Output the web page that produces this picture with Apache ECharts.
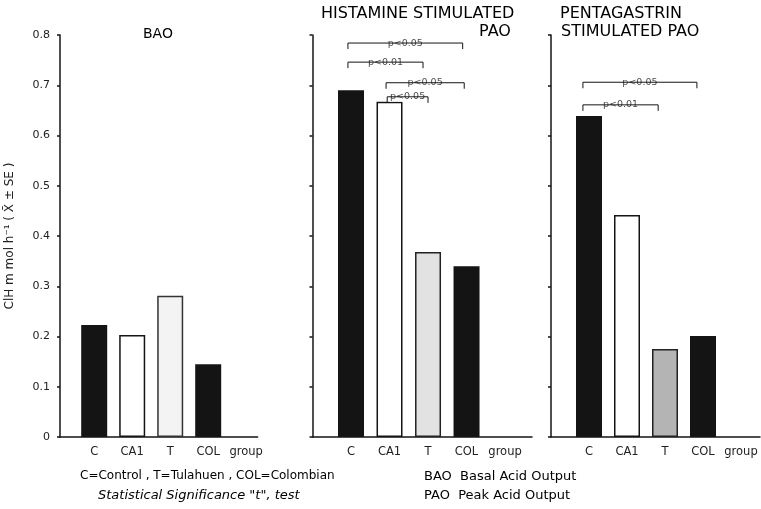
<!DOCTYPE html>
<html>
<head>
<meta charset="utf-8">
<script src="https://cdn.jsdelivr.net/npm/echarts@6/dist/echarts.min.js"></script>
<style>
  html, body { margin: 0; padding: 0; background: #fff; }
  #chart { width: 761px; height: 509px; }
</style>
</head>
<body>
<div id="chart"></div>
<script>
// data
var groups = ["C", "CA1", "T", "COL"];
var xLabels = ["C", "CA1", "T", "COL", "group"];
var baoValues = [0.223, 0.203, 0.281, 0.145];
var histamineValues = [0.69, 0.667, 0.368, 0.34];
var pentagastrinValues = [0.639, 0.442, 0.175, 0.201];
var yTicks = [0, 0.1, 0.2, 0.3, 0.4, 0.5, 0.6, 0.7, 0.8];

// significance brackets: from / to on the group scale, level on the value scale
var histamineSig = [
  { from: 0.92, to: 3.9, level: 0.784, text: "p<0.05" },
  { from: 0.92, to: 2.87, level: 0.746, text: "p<0.01" },
  { from: 1.91, to: 3.94, level: 0.705, text: "p<0.05" },
  { from: 1.94, to: 3.0, level: 0.677, text: "p<0.05" }
];
var pentagastrinSig = [
  { from: 0.84, to: 3.84, level: 0.706, text: "p<0.05" },
  { from: 0.84, to: 2.82, level: 0.661, text: "p<0.01" }
];

var FONT = "DejaVu Sans";
var INK = "#141414";

// fill of each bar, per panel
var barStyles = [
  [{ color: INK }, { color: "#fff", borderColor: INK, borderWidth: 1.5 },
   { color: "#f3f3f3", borderColor: "#333", borderWidth: 1.5 }, { color: INK }],
  [{ color: INK }, { color: "#fff", borderColor: INK, borderWidth: 1.5 },
   { color: "#e2e2e2", borderColor: "#222", borderWidth: 1.5 }, { color: INK }],
  [{ color: INK }, { color: "#fff", borderColor: INK, borderWidth: 1.5 },
   { color: "#b4b4b4", borderColor: "#222", borderWidth: 1.5 }, { color: INK }]
];

var chart = echarts.init(document.getElementById("chart"));

function xAxisFor(idx, min, max) {
  return {
    type: "value",
    gridIndex: idx,
    min: min,
    max: max,
    splitLine: { show: false },
    axisTick: { show: false },
    axisLine: { show: true, onZero: false, lineStyle: { color: INK, width: 1.5 } },
    axisLabel: {
      customValues: [1, 2, 3, 4, 5],
      formatter: function (v) { return xLabels[Math.round(v) - 1]; },
      color: "#222",
      fontFamily: FONT,
      fontSize: 11.5,
      margin: 9
    }
  };
}

function yAxisFor(idx, showLabels) {
  var ax = {
    type: "value",
    gridIndex: idx,
    min: 0,
    max: 0.8,
    interval: 0.1,
    splitLine: { show: false },
    axisLine: { show: true, lineStyle: { color: INK, width: 1.5 } },
    axisTick: { show: true, length: 3, lineStyle: { color: INK, width: 1.5 } },
    axisLabel: {
      show: showLabels,
      formatter: function (v) { return v === 0 ? "0" : v.toFixed(1); },
      color: "#222",
      fontFamily: FONT,
      fontSize: 11,
      margin: 10
    }
  };
  if (showLabels) {
    ax.name = "ClH m mol h\u207B\u00B9 ( X\u0304 \u00B1 SE )";
    ax.nameLocation = "middle";
    ax.nameRotate = 90;
    ax.nameGap = 44;
    ax.nameTextStyle = { fontFamily: FONT, fontSize: 12, color: "#222" };
  }
  return ax;
}

function barSeries(idx, values) {
  return {
    type: "bar",
    xAxisIndex: idx,
    yAxisIndex: idx,
    barWidth: 26,
    silent: true,
    data: values.map(function (v, i) {
      return { value: [i + 1, v], itemStyle: barStyles[idx][i] };
    })
  };
}

function bracketSeries(idx, list) {
  var out = [];
  var drop = 0.012;
  list.forEach(function (b) {
    out.push({
      type: "line",
      xAxisIndex: idx,
      yAxisIndex: idx,
      symbol: "none",
      silent: true,
      lineStyle: { color: INK, width: 1 },
      data: [[b.from, b.level - drop], [b.from, b.level], [b.to, b.level], [b.to, b.level - drop]]
    });
    out.push({
      type: "scatter",
      xAxisIndex: idx,
      yAxisIndex: idx,
      symbolSize: 0,
      silent: true,
      data: [[(b.from + b.to) / 2, b.level]],
      label: {
        show: true,
        position: "inside",
        formatter: b.text,
        fontFamily: FONT,
        fontSize: 9.5,
        color: "#1a1a1a",
        backgroundColor: "#fff",
        padding: [0, 2]
      }
    });
  });
  return out;
}

var series = [
  barSeries(0, baoValues),
  barSeries(1, histamineValues),
  barSeries(2, pentagastrinValues)
].concat(bracketSeries(1, histamineSig), bracketSeries(2, pentagastrinSig));

var titleStyle = { fontFamily: FONT, fontSize: 16, fontWeight: "normal", color: "#111" };
var noteStyle = { fontFamily: FONT, fontSize: 13, color: "#222" };

chart.setOption({
  animation: false,
  backgroundColor: "#fff",
  grid: [
    { left: 60, top: 35, width: 197.6, height: 402 },
    { left: 312.5, top: 35, width: 219.5, height: 402 },
    { left: 551, top: 35, width: 209, height: 402 }
  ],
  xAxis: [xAxisFor(0, 0.1, 5.3), xAxisFor(1, 0, 5.7), xAxisFor(2, 0, 5.5)],
  yAxis: [yAxisFor(0, true), yAxisFor(1, false), yAxisFor(2, false)],
  series: series,
  graphic: [
    { type: "text", left: 143, top: 27, style: Object.assign({}, titleStyle, { text: "BAO", fontSize: 14 }) },
    { type: "text", left: 321, top: 6, style: Object.assign({}, titleStyle, { text: "HISTAMINE STIMULATED" }) },
    { type: "text", left: 479, top: 24, style: Object.assign({}, titleStyle, { text: "PAO" }) },
    { type: "text", left: 560, top: 6, style: Object.assign({}, titleStyle, { text: "PENTAGASTRIN" }) },
    { type: "text", left: 561, top: 24, style: Object.assign({}, titleStyle, { text: "STIMULATED PAO" }) },
    { type: "text", left: 80, top: 470, style: Object.assign({}, noteStyle, { text: "C=Control , T=Tulahuen , COL=Colombian", fontSize: 12 }) },
    { type: "text", left: 98, top: 489, style: Object.assign({}, noteStyle, { text: "Statistical Significance \"t\", test", fontStyle: "italic" }) },
    { type: "text", left: 424, top: 470, style: Object.assign({}, noteStyle, { text: "BAO  Basal Acid Output" }) },
    { type: "text", left: 424, top: 489, style: Object.assign({}, noteStyle, { text: "PAO  Peak Acid Output" }) }
  ]
});
</script>
</body>
</html>
